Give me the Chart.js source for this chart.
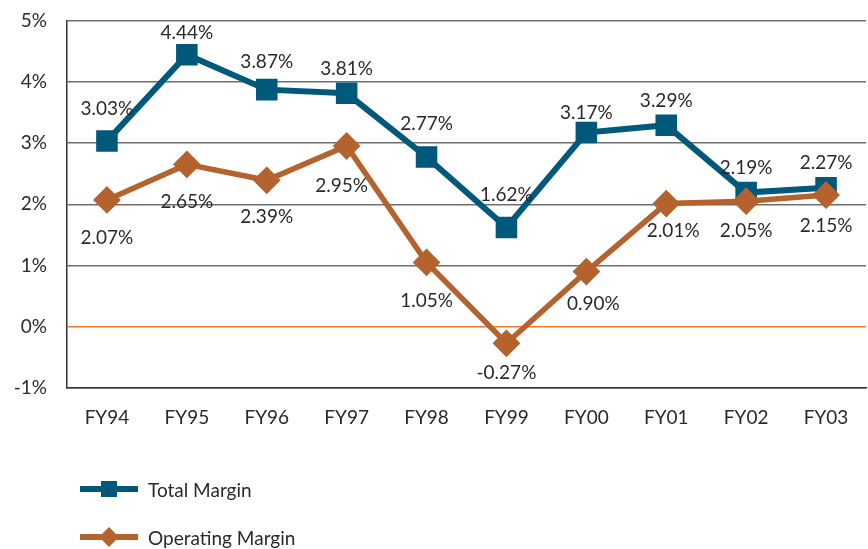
<!DOCTYPE html>
<html>
<head>
<meta charset="utf-8">
<script src="https://cdn.jsdelivr.net/npm/chart.js@4/dist/chart.umd.min.js"></script>
<style>
  html, body { margin: 0; padding: 0; background: #fff; }
  #wrap { width: 868px; height: 549px; overflow: hidden; position: relative; }
  #chart { position: absolute; left: 0; top: -11px; }
</style>
</head>
<body>
<div id="wrap"><canvas id="chart" width="868" height="560"></canvas></div>
<script>
const years = ['FY94', 'FY95', 'FY96', 'FY97', 'FY98', 'FY99', 'FY00', 'FY01', 'FY02', 'FY03'];
const totalMargin = [3.03, 4.44, 3.87, 3.81, 2.77, 1.62, 3.17, 3.29, 2.19, 2.27];
const operatingMargin = [2.07, 2.65, 2.39, 2.95, 1.05, -0.27, 0.90, 2.01, 2.05, 2.15];
const yTicks = [-1, 0, 1, 2, 3, 4, 5];

const TOTAL_COLOR = '#00587a';
const OPER_COLOR = '#b4622e';
const TEXT_COLOR = '#2a2a2a';
const FONT = 'Lato, sans-serif';
const SHIFT = 11; // canvas sits this many px above the page top

// label offsets (px) from each point
const totalLabelDy = [-32, -22, -28, -24, -33, -33, -20, -24, -25, -25];
const operLabelDy = [38, 37, 37, 40, 38, 30, 32, 27, 30, 31];
const operLabelDx = [0, 0, 0, -5, 0, 0, 7, 7, 0, 0];

const valueLabels = {
  id: 'valueLabels',
  afterDatasetsDraw(chart) {
    const ctx = chart.ctx;
    ctx.save();
    ctx.font = '19px ' + FONT;
    ctx.fillStyle = TEXT_COLOR;
    ctx.textAlign = 'center';
    ctx.textBaseline = 'middle';
    chart.data.datasets.forEach((ds, i) => {
      const meta = chart.getDatasetMeta(i);
      meta.data.forEach((pt, j) => {
        const dx = ds.labelDx ? ds.labelDx[j] : 0;
        ctx.fillText(ds.data[j].toFixed(2) + '%', pt.x + dx, pt.y + ds.labelDy[j]);
      });
    });
    ctx.restore();
  }
};

const customLegend = {
  id: 'customLegend',
  afterDraw(chart) {
    const ctx = chart.ctx;
    const items = [
      { text: 'Total Margin', color: TOTAL_COLOR, shape: 'square', y: 489 + SHIFT },
      { text: 'Operating Margin', color: OPER_COLOR, shape: 'diamond', y: 537 + SHIFT }
    ];
    ctx.save();
    items.forEach(it => {
      ctx.strokeStyle = it.color;
      ctx.fillStyle = it.color;
      ctx.lineWidth = 6;
      ctx.beginPath();
      ctx.moveTo(80, it.y);
      ctx.lineTo(138, it.y);
      ctx.stroke();
      const cx = 109;
      ctx.beginPath();
      if (it.shape === 'square') {
        ctx.rect(cx - 8, it.y - 8, 16, 16);
      } else {
        ctx.moveTo(cx, it.y - 10);
        ctx.lineTo(cx + 10, it.y);
        ctx.lineTo(cx, it.y + 10);
        ctx.lineTo(cx - 10, it.y);
        ctx.closePath();
      }
      ctx.fill();
      ctx.fillStyle = TEXT_COLOR;
      ctx.font = '19px ' + FONT;
      ctx.textAlign = 'left';
      ctx.textBaseline = 'middle';
      ctx.fillText(it.text, 148, it.y + 2);
    });
    ctx.restore();
  }
};

new Chart(document.getElementById('chart'), {
  type: 'line',
  data: {
    labels: years,
    datasets: [
      {
        label: 'Total Margin',
        data: totalMargin,
        borderColor: TOTAL_COLOR,
        backgroundColor: TOTAL_COLOR,
        borderWidth: 6,
        pointStyle: 'rect',
        pointRadius: 11,
        pointHoverRadius: 11,
        tension: 0,
        order: 1,
        labelDy: totalLabelDy
      },
      {
        label: 'Operating Margin',
        data: operatingMargin,
        borderColor: OPER_COLOR,
        backgroundColor: OPER_COLOR,
        borderWidth: 5.5,
        pointStyle: 'rectRot',
        pointRadius: 10,
        pointHoverRadius: 10,
        tension: 0,
        order: 0,
        labelDy: operLabelDy,
        labelDx: operLabelDx
      }
    ]
  },
  options: {
    responsive: false,
    animation: false,
    layout: { autoPadding: false, padding: { top: 9, right: 2, bottom: 101, left: 0 } },
    plugins: {
      legend: { display: false },
      tooltip: { enabled: false }
    },
    scales: {
      x: {
        offset: true,
        grid: { display: false },
        border: { display: true, color: '#333', width: 1.5 },
        ticks: {
          color: TEXT_COLOR,
          font: { family: FONT, size: 19 },
          padding: 10,
          maxRotation: 0
        },
        afterFit(scale) { scale.height = 60; }
      },
      y: {
        min: -1,
        max: 5,
        afterBuildTicks(scale) { scale.ticks = yTicks.map(v => ({ value: v })); },
        grid: {
          drawTicks: false,
          color: c => (c.tick && c.tick.value === 0 ? '#f47a28' : '#6e6e6e'),
          lineWidth: 1.4
        },
        border: { display: true, color: '#333', width: 1.5 },
        ticks: {
          color: TEXT_COLOR,
          font: { family: FONT, size: 19 },
          padding: 20,
          callback: v => v + '%'
        },
        afterFit(scale) { scale.width = 67; }
      }
    }
  },
  plugins: [valueLabels, customLegend]
});
</script>
</body>
</html>
